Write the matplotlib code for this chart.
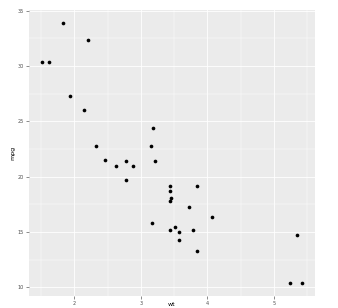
import matplotlib
matplotlib.use("Agg")
import matplotlib.pyplot as plt
from matplotlib.ticker import MultipleLocator

wt = [2.620, 2.875, 2.320, 3.215, 3.440, 3.460, 3.570, 3.190, 3.150, 3.440, 3.440,
      4.070, 3.730, 3.780, 5.250, 5.424, 5.345, 2.200, 1.615, 1.835, 2.465, 3.520,
      3.435, 3.840, 3.845, 1.935, 2.140, 1.513, 3.170, 2.770, 3.570, 2.780]
mpg = [21.0, 21.0, 22.8, 21.4, 18.7, 18.1, 14.3, 24.4, 22.8, 19.2, 17.8,
       16.4, 17.3, 15.2, 10.4, 10.4, 14.7, 32.4, 30.4, 33.9, 21.5, 15.5,
       15.2, 13.3, 19.2, 27.3, 26.0, 30.4, 15.8, 19.7, 15.0, 21.4]
x_ticks = [2, 3, 4, 5]
y_ticks = [10, 15, 20, 25, 30, 35]

fig = plt.figure(figsize=(3.38, 3.08), dpi=100)
ax = fig.add_axes([29/338, 12/308, 286/338, 286/308])
ax.set_facecolor("#EBEBEB")
ax.scatter(wt, mpg, s=7, c="black", linewidths=0, zorder=3)

xr = max(wt) - min(wt)
yr = max(mpg) - min(mpg)
ax.set_xlim(min(wt) - 0.05 * xr, max(wt) + 0.05 * xr)
ax.set_ylim(min(mpg) - 0.05 * yr, max(mpg) + 0.05 * yr)
ax.set_xticks(x_ticks)
ax.set_yticks(y_ticks)
ax.xaxis.set_minor_locator(MultipleLocator(0.5))
ax.yaxis.set_minor_locator(MultipleLocator(2.5))
ax.grid(which="major", color="white", linewidth=0.6)
ax.grid(which="minor", color="white", linewidth=0.3)
ax.set_axisbelow(True)
for sp in ax.spines.values():
    sp.set_visible(False)
ax.tick_params(which="major", length=2, width=0.4, color="#333333",
               labelsize=3.5, labelcolor="#4D4D4D", pad=1.5)
ax.tick_params(which="minor", length=0)
ax.set_xlabel("wt", fontsize=4.5, va="bottom")
ax.xaxis.set_label_coords(0.5, -11.5 / 286)
ax.set_ylabel("mpg", fontsize=4.5, labelpad=2)
fig.savefig("out.png", dpi=100)
